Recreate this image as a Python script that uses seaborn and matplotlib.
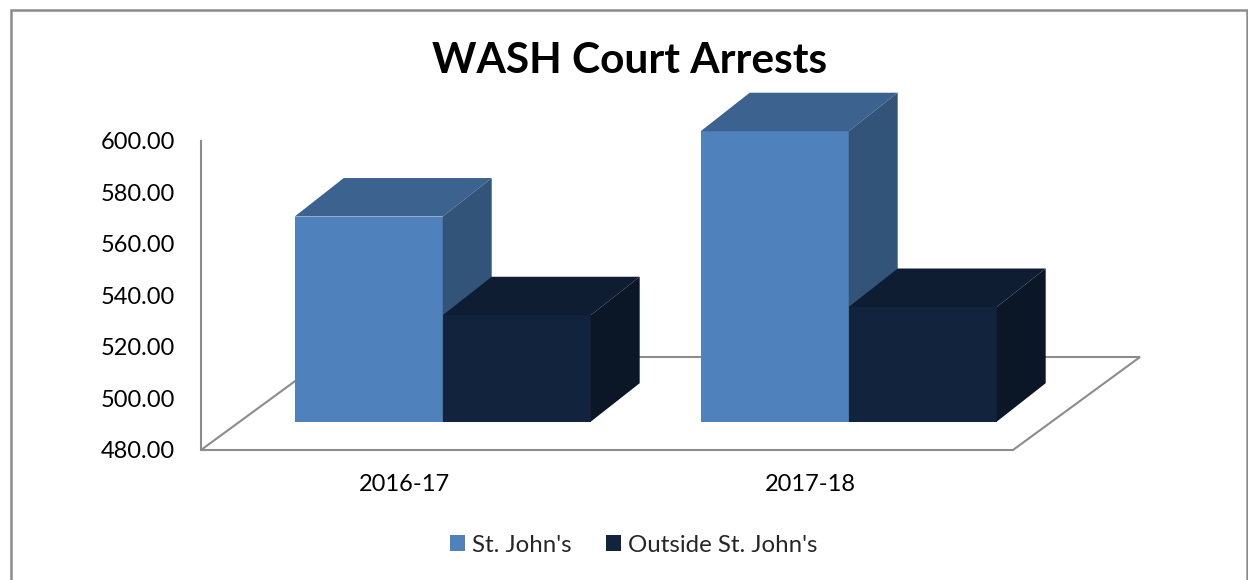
import numpy as np
import pandas as pd
import matplotlib
matplotlib.use("Agg")
import matplotlib.pyplot as plt
import matplotlib.transforms as mtransforms
from matplotlib.patches import Polygon, Rectangle, Patch
import seaborn as sns

# data
years = ["2016-17", "2017-18"]
series = ["St. John's", "Outside St. John's"]
st_johns = [559.6, 592.7]
outside = [521.3, 524.5]
y_ticks = [480, 500, 520, 540, 560, 580, 600]

front_colors = ["#4F81BD", "#12243D"]
top_colors = ["#3C6390", "#0E1D31"]
side_colors = ["#335479", "#0B1727"]
grey = "#8C8C8C"

df = pd.DataFrame({
    "year": years * 2,
    "series": [series[0]] * 2 + [series[1]] * 2,
    "value": st_johns + outside,
})

sns.set_theme(style="white")
plt.rcParams["font.family"] = ["Lato", "DejaVu Sans"]

W, H = 1248, 580
fig = plt.figure(figsize=(W / 100, H / 100), dpi=100)
ax_w, ax_h = 812, 309.3
ax = fig.add_axes([201 / W, 130 / H, ax_w / W, ax_h / H])

sns.barplot(data=df, x="year", y="value", hue="series", hue_order=series,
            palette=front_colors, width=0.729, errorbar=None, legend=False,
            saturation=1, ax=ax)
ax.set_xlim(-0.5, 1.5)
ax.set_ylim(480, 600)
ymin = 480

# pseudo-3D: bars sit back from the floor front, with top and side faces
px_per_x = ax_w / 2.0
px_per_y = ax_h / 120.0
front_shift = ax.transData + mtransforms.ScaledTranslation(38.7 / 100, 28.3 / 100, fig.dpi_scale_trans)
ddx = 49 / px_per_x
ddy = 38.5 / px_per_y

n = len(years)
for i, p in enumerate(ax.patches):
    s = i // n
    top = p.get_height()
    p.set_y(ymin)
    p.set_height(top - ymin)
    p.set_transform(front_shift)
    p.set_clip_on(False)
    p.set_edgecolor("none")
    p.set_zorder(2 + s)
    x0 = p.get_x()
    x1 = x0 + p.get_width()
    top_face = Polygon([(x0, top), (x1, top), (x1 + ddx, top + ddy), (x0 + ddx, top + ddy)],
                       closed=True, facecolor=top_colors[s], edgecolor="none",
                       transform=front_shift, clip_on=False, zorder=2 + s)
    side_face = Polygon([(x1, ymin), (x1, top), (x1 + ddx, top + ddy), (x1 + ddx, ymin + ddy)],
                        closed=True, facecolor=side_colors[s], edgecolor="none",
                        transform=front_shift, clip_on=False, zorder=2 + s)
    ax.add_patch(top_face)
    ax.add_patch(side_face)

# floor outline
fx = 127 / ax_w
fy = 93 / ax_h
floor = Polygon([(0, 0), (1, 0), (1 + fx, fy), (fx, fy)], closed=True, fill=False,
                edgecolor=grey, linewidth=1.5, transform=ax.transAxes, clip_on=False, zorder=1)
ax.add_patch(floor)

for side in ["top", "right", "bottom"]:
    ax.spines[side].set_visible(False)
ax.spines["left"].set_color(grey)
ax.spines["left"].set_linewidth(1.5)

ax.set_yticks(y_ticks)
ax.set_yticklabels([f"{v:.2f}" for v in y_ticks])
ax.tick_params(axis="y", length=0, pad=18.5, labelsize=17, labelcolor="black")
ax.tick_params(axis="x", length=0, pad=17.5, labelsize=17, labelcolor="black")
ax.set_xlabel("")
ax.set_ylabel("")
ax.patch.set_alpha(0)

fig.text(630 / W, 1 - 61 / H, "WASH Court Arrests", ha="center", va="center",
         fontsize=30.5, fontweight="bold", color="black")

handles = [Patch(facecolor=c, edgecolor="none") for c in front_colors]
fig.legend(handles, series, loc="center", bbox_to_anchor=(634 / W, 1 - 545 / H),
           ncol=2, frameon=False, fontsize=17.3, handlelength=0.6, handleheight=0.6,
           handletextpad=0.3, columnspacing=1.45)

# chart area border
fig.patches.append(Rectangle((11 / W, -0.1), (1246.5 - 11) / W, 1.1 - 10 / H, fill=False,
                             edgecolor=grey, linewidth=1.8, transform=fig.transFigure))

fig.savefig("out.png", dpi=100)
